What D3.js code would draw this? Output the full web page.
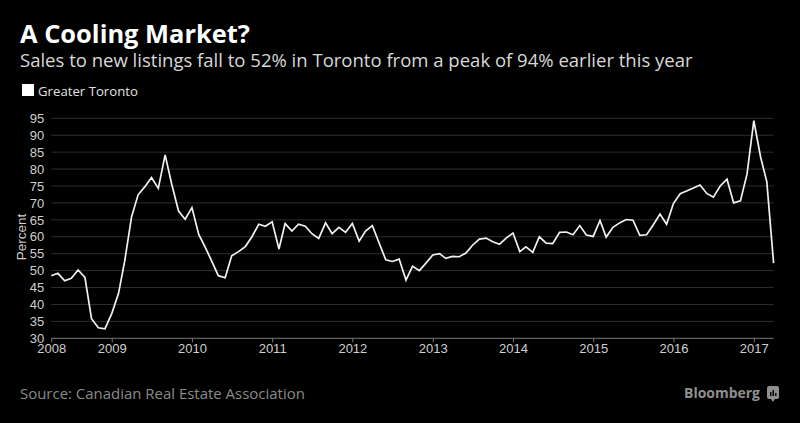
<!DOCTYPE html>
<html>
<head>
<meta charset="utf-8">
<script src="https://cdn.jsdelivr.net/npm/d3@7"></script>
<style>
  html, body { margin: 0; padding: 0; background: #000; }
  svg { display: block; }
</style>
</head>
<body>
<svg id="chart" width="800" height="423"></svg>
<script>
// ---- data ----
const startMonth = "2008-04";   // first monthly observation
const seriesName = "Greater Toronto";
const values = [
  48.5, 49.2, 47.0, 47.7, 50.2, 48.0, 35.8, 33.1, 32.8,               // Apr-Dec 2008
  37.3, 43.3, 52.8, 65.8, 72.4, 74.8, 77.5, 74.3, 84.2, 75.5, 67.6, 65.2, // 2009
  68.6, 60.7, 57.1, 52.8, 48.5, 47.9, 54.4, 55.6, 57.1, 60.0, 63.7, 63.1, // 2010
  64.4, 56.4, 63.9, 61.7, 63.7, 63.1, 60.9, 59.5, 64.1, 60.9, 62.8, 61.3, // 2011
  63.9, 58.7, 61.7, 63.3, 58.3, 53.2, 52.7, 53.4, 47.2, 51.3, 50.0, 52.2, // 2012
  54.6, 55.0, 53.6, 54.2, 54.1, 55.2, 57.5, 59.3, 59.6, 58.5, 57.8, 59.6, // 2013
  61.1, 55.6, 57.0, 55.4, 60.0, 58.1, 58.0, 61.3, 61.4, 60.6, 63.3, 60.5, // 2014
  60.1, 64.8, 59.9, 62.8, 64.1, 65.1, 64.9, 60.4, 60.6, 63.5, 66.7, 63.7, // 2015
  69.8, 72.7, 73.5, 74.4, 75.3, 72.8, 71.7, 75.0, 77.0, 70.0, 70.6, 78.5, // 2016
  94.3, 83.5, 76.3, 52.2                                                   // Jan-Apr 2017
];
const yTicks = [30, 35, 40, 45, 50, 55, 60, 65, 70, 75, 80, 85, 90, 95];
const xTickLabels = ["2008", "2009", "2010", "2011", "2012", "2013", "2014", "2015", "2016", "2017"];
const title = "A Cooling Market?";
const subtitle = "Sales to new listings fall to 52% in Toronto from a peak of 94% earlier this year";
const yLabel = "Percent";
const source = "Source: Canadian Real Estate Association";

// ---- build ----
const parseMonth = d3.timeParse("%Y-%m");
const t0 = parseMonth(startMonth);
const data = values.map((v, i) => ({ date: d3.timeMonth.offset(t0, i), value: v }));

const svg = d3.select("#chart");
const W = 800, H = 423;
svg.append("rect").attr("width", W).attr("height", H).attr("fill", "#000");

const FONT = "'Liberation Sans', Arial, sans-serif";
const FONT2 = "'Open Sans', 'Liberation Sans', sans-serif";
const plot = { left: 51.3, right: 773.6, top: 118.3, bottom: 338.3 };

// scale a text's font-size so it spans the given width
function fit(sel, width) {
  const fs = +sel.attr("font-size");
  const w = sel.node().getComputedTextLength();
  if (w > 0) sel.attr("font-size", (fs * width / w).toFixed(2));
  return sel;
}

const x = d3.scaleTime()
  .domain(d3.extent(data, d => d.date))
  .range([plot.left, plot.right]);
const y = d3.scaleLinear()
  .domain([30, 95])
  .range([plot.bottom, plot.top]);

// header
fit(svg.append("text").attr("x", 20).attr("y", 43)
  .attr("font-family", FONT2).attr("font-weight", "bold").attr("font-size", 22)
  .attr("fill", "#fff").text(title), 230);
fit(svg.append("text").attr("x", 20).attr("y", 67)
  .attr("font-family", FONT2).attr("font-size", 17)
  .attr("fill", "#d8d8d8").text(subtitle), 673);

// legend
svg.append("rect").attr("x", 22).attr("y", 84).attr("width", 12).attr("height", 12).attr("fill", "#fff");
fit(svg.append("text").attr("x", 38).attr("y", 95.5)
  .attr("font-family", FONT2).attr("font-size", 13.5)
  .attr("fill", "#e0e0e0").text(seriesName), 100);

// grid lines
svg.append("g").selectAll("line").data(yTicks.filter(t => t > 30)).join("line")
  .attr("x1", plot.left).attr("x2", plot.right)
  .attr("y1", d => y(d)).attr("y2", d => y(d))
  .attr("stroke", "#2e2e2e").attr("stroke-width", 1);

// y axis labels
const yAxis = d3.axisLeft(y).tickValues(yTicks).tickSize(0).tickPadding(7);
const gy = svg.append("g").attr("transform", `translate(${plot.left},0)`).call(yAxis);
gy.select(".domain").remove();
gy.selectAll("text").attr("font-family", FONT).attr("font-size", 13).attr("fill", "#cfcfcf");

// y label
svg.append("text")
  .attr("transform", `translate(26,237) rotate(-90)`)
  .attr("text-anchor", "middle")
  .attr("font-family", FONT).attr("font-size", 13.5).attr("fill", "#cfcfcf")
  .text(yLabel);

// x axis
const xTickDates = xTickLabels.map((lab, i) => i === 0 ? t0 : parseMonth(lab + "-01"));
const xAxis = d3.axisBottom(x).tickValues(xTickDates)
  .tickFormat((d, i) => xTickLabels[i]).tickSize(4).tickPadding(1);
const gx = svg.append("g").attr("transform", `translate(0,${plot.bottom})`).call(xAxis);
gx.select(".domain").attr("stroke", "#777").attr("d", `M${plot.left},0H${plot.right}`);
gx.selectAll(".tick line").attr("stroke", "#777");
gx.selectAll("text").attr("font-family", FONT).attr("font-size", 13).attr("fill", "#cfcfcf");

// line
const line = d3.line().x(d => x(d.date)).y(d => y(d.value));
svg.append("path").datum(data)
  .attr("d", line).attr("fill", "none")
  .attr("stroke", "#f2f2f2").attr("stroke-width", 1.7)
  .attr("stroke-linejoin", "miter");

// footer
fit(svg.append("text").attr("x", 20).attr("y", 399)
  .attr("font-family", FONT2).attr("font-size", 14)
  .attr("fill", "#8a8a8a").text(source), 285);
fit(svg.append("text").attr("x", 684).attr("y", 398)
  .attr("font-family", FONT2).attr("font-weight", "bold").attr("font-size", 15)
  .attr("fill", "#8f8f8f").text("Bloomberg"), 76);
// small logo mark
const logo = svg.append("g").attr("transform", "translate(767,386)");
logo.append("rect").attr("width", 12).attr("height", 13).attr("rx", 2).attr("fill", "#8f8f8f");
logo.append("path").attr("d", "M4,13 L6,16 L8,13 Z").attr("fill", "#8f8f8f");
[[3, 6], [5.5, 4], [8, 7]].forEach(([bx, by]) =>
  logo.append("rect").attr("x", bx).attr("y", by).attr("width", 1.5).attr("height", 10 - by).attr("fill", "#000"));
</script>
</body>
</html>
